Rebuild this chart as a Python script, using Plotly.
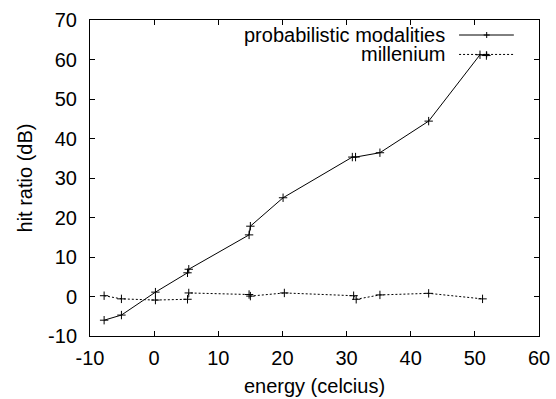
import plotly.graph_objects as go

prob_x = [-7.8, -5.1, 0.2, 5.2, 5.4, 14.8, 15.0, 20.1, 30.9, 31.4, 35.2, 42.8, 50.8, 51.8]
prob_y = [-6.0, -4.7, 1.1, 6.0, 6.9, 15.6, 17.8, 25.0, 35.3, 35.3, 36.4, 44.4, 61.2, 61.0]

mill_x = [-7.8, -5.1, 0.2, 5.2, 5.4, 14.8, 15.0, 20.3, 31.1, 31.5, 35.2, 42.8, 51.2]
mill_y = [0.2, -0.6, -0.9, -0.7, 0.9, 0.5, 0.1, 0.9, 0.2, -0.7, 0.4, 0.8, -0.6]

series_names = ["probabilistic modalities", "millenium"]
series_dash = ["solid", "2px,2px"]

x_ticks = [-10, 0, 10, 20, 30, 40, 50, 60]
y_ticks = [-10, 0, 10, 20, 30, 40, 50, 60, 70]

FONT = "Liberation Sans, Arial, Helvetica, sans-serif"
FS = 20

fig = go.Figure()
for xs, ys, dash in [(prob_x, prob_y, series_dash[0]), (mill_x, mill_y, series_dash[1])]:
    fig.add_trace(go.Scatter(
        x=xs, y=ys, mode="lines+markers",
        line=dict(color="black", width=1, dash=dash),
        marker=dict(symbol="cross-thin", size=6, line=dict(color="black", width=1)),
        showlegend=False,
    ))

# manual gnuplot-style legend (text right, sample on right)
legend_rows = [0.9525, 0.891]
for name, dash, yy in zip(series_names, series_dash, legend_rows):
    fig.add_annotation(x=0.795, y=yy, xref="paper", yref="paper", text=name,
                       showarrow=False, xanchor="right", yanchor="middle",
                       font=dict(family=FONT, size=FS, color="black"))
    fig.add_shape(type="line", xref="paper", yref="paper",
                  x0=0.822, x1=0.944, y0=yy, y1=yy,
                  line=dict(color="black", width=1, dash=dash))
    fig.add_shape(type="line", xref="paper", yref="paper",
                  x0=0.8835 - 0.0067, x1=0.8835 + 0.0067, y0=yy, y1=yy,
                  line=dict(color="black", width=1))
    fig.add_shape(type="line", xref="paper", yref="paper",
                  x0=0.8835, x1=0.8835, y0=yy - 0.0095, y1=yy + 0.0095,
                  line=dict(color="black", width=1))

axis_common = dict(
    showgrid=False, zeroline=False, showline=True, linecolor="black", linewidth=1,
    mirror="ticks", ticks="inside", ticklen=5, tickcolor="black", tickwidth=1,
    tickfont=dict(family=FONT, size=FS, color="black"), automargin=False,
)

fig.update_xaxes(range=[-10, 60], tickvals=x_ticks, ticktext=[str(v) for v in x_ticks],
                 ticklabelstandoff=4,
                 title=dict(text="energy (celcius)", font=dict(family=FONT, size=FS, color="black"), standoff=10),
                 **axis_common)
fig.update_yaxes(range=[-10, 70], tickvals=y_ticks, ticktext=[str(v) for v in y_ticks],
                 ticklabelstandoff=8,
                 title=dict(text="hit ratio (dB)", font=dict(family=FONT, size=FS, color="black"), standoff=10),
                 **axis_common)

fig.update_layout(
    width=556, height=399,
    margin=dict(l=90, r=17, t=20, b=63),
    plot_bgcolor="white", paper_bgcolor="white",
    font=dict(family=FONT, size=FS, color="black"),
)

fig.write_html("out.html")
